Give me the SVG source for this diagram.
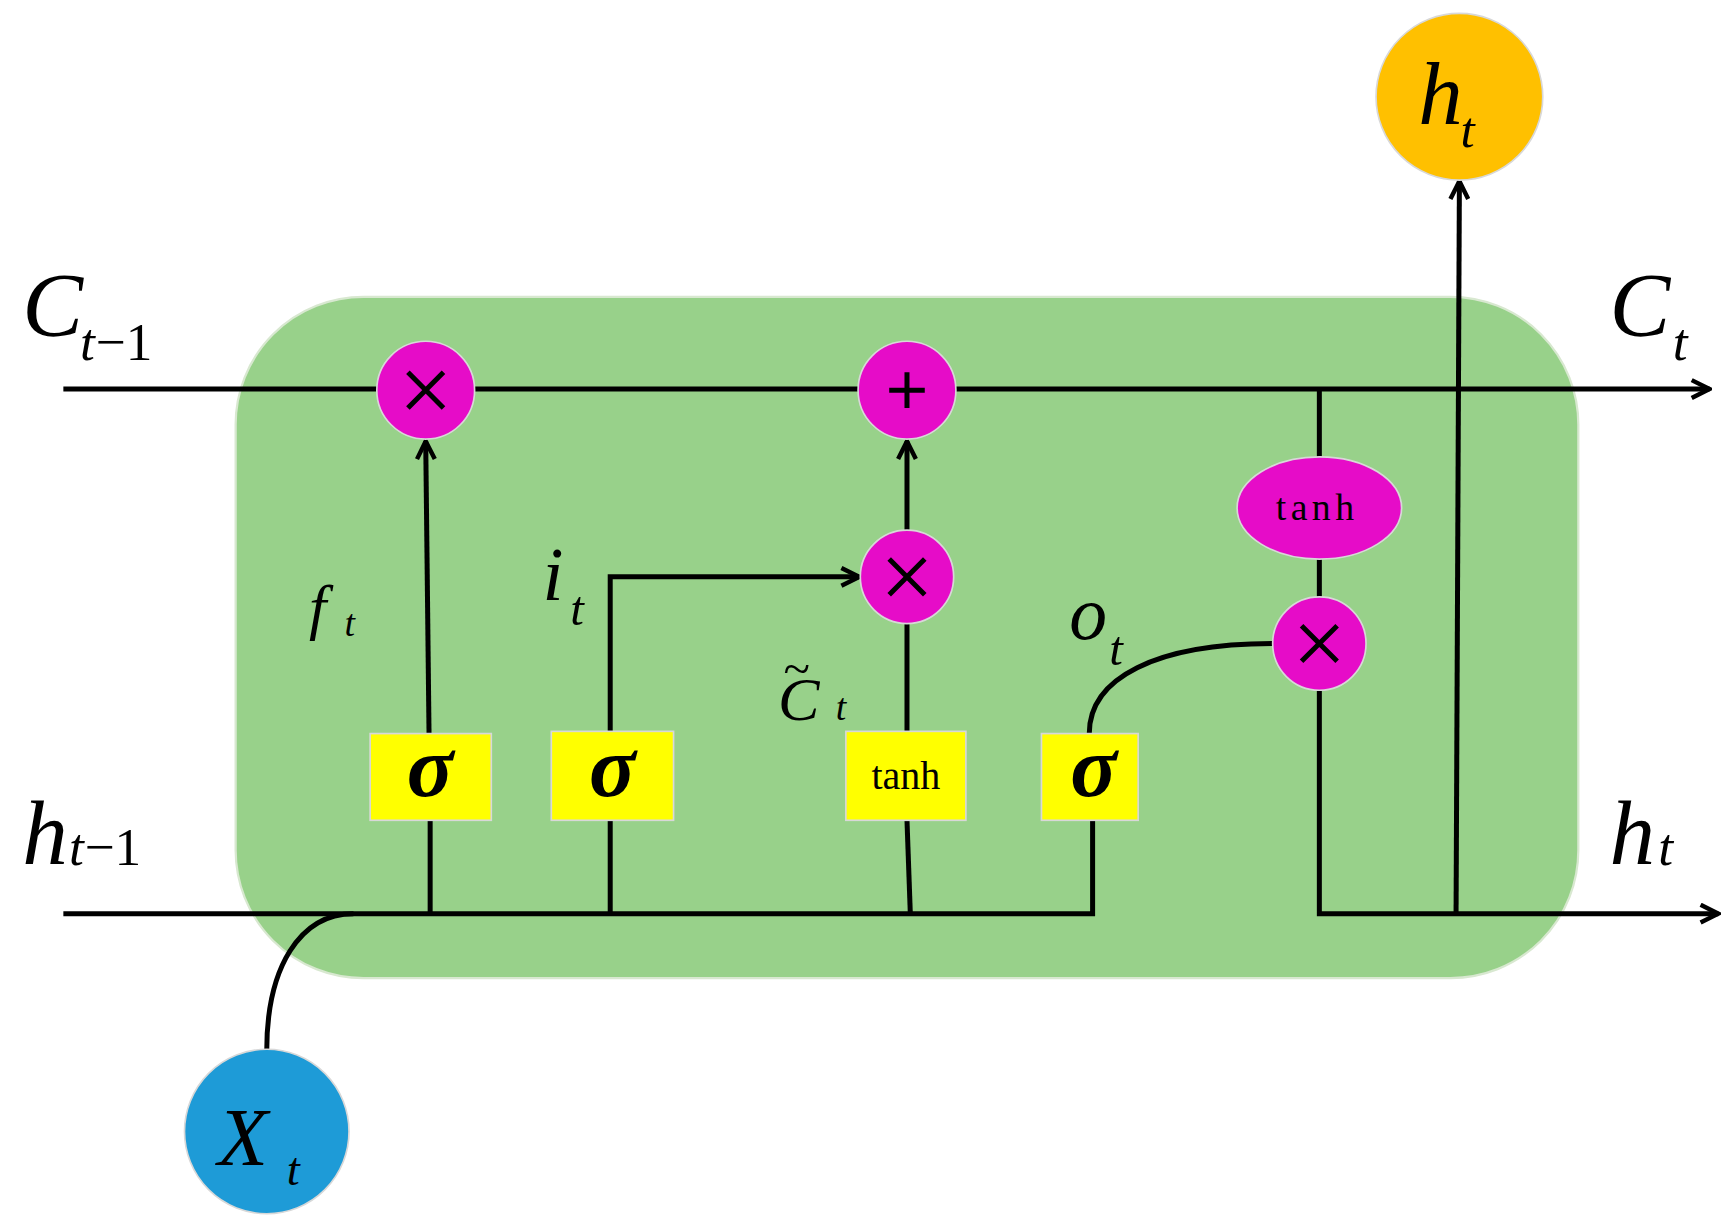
<svg xmlns="http://www.w3.org/2000/svg" width="1734" height="1224" viewBox="0 0 1734 1224">
<defs>
<marker id="ar" viewBox="0 0 20 20" refX="18" refY="10" markerWidth="20" markerHeight="20" markerUnits="userSpaceOnUse" orient="auto"><path d="M2,2 L18,10 L2,18" fill="none" stroke="#000" stroke-width="4"/></marker>
<style>
.ln{stroke:#000;stroke-width:4.5;fill:none}
.op{fill:#E60CC8;stroke:#d8d8d8;stroke-width:1.5}
.bx{fill:#FFFF00;stroke:#d8d8d8;stroke-width:1.5}
.m{font-family:"Liberation Serif",serif;font-style:italic;fill:#000}
.s{font-family:"Liberation Serif",serif;fill:#000}
</style>
</defs>
<rect width="1734" height="1224" fill="#fff"/>
<g transform="scale(1.1115)">
<rect id="cell" x="212" y="267" width="1208" height="613" rx="115" fill="#98D18A" stroke="#d8e8d0" stroke-width="2"/>
<g id="connectors">
<line class="ln" x1="57" y1="350" x2="1538" y2="350" marker-end="url(#ar)"/>
<polyline class="ln" points="57,822 983,822 983,738"/>
<polyline class="ln" points="1187,620 1187,822 1546,822" marker-end="url(#ar)"/>
<line class="ln" x1="1187" y1="350" x2="1187" y2="411"/>
<line class="ln" x1="1187" y1="503" x2="1187" y2="537"/>
<line class="ln" x1="387" y1="822" x2="387" y2="738"/>
<line class="ln" x1="386" y1="660" x2="383" y2="397" marker-end="url(#ar)"/>
<line class="ln" x1="549" y1="822" x2="549" y2="738"/>
<polyline class="ln" points="549,660 549,519 773,519" marker-end="url(#ar)"/>
<line class="ln" x1="819" y1="822" x2="816" y2="738"/>
<line class="ln" x1="816" y1="660" x2="816" y2="561"/>
<line class="ln" x1="816" y1="477" x2="816" y2="397" marker-end="url(#ar)"/>
<path class="ln" d="M980,660 C980,610 1040,579 1145,579"/>
<line class="ln" x1="1310" y1="822" x2="1313" y2="163" marker-end="url(#ar)"/>
<path class="ln" d="M240,945 C240,870 270,822 318,822"/>
</g>
<g id="mul1"><circle class="op" cx="383" cy="351" r="44"/><path class="ln" d="M367,335 L399,367 M399,335 L367,367" stroke-width="3.5"/></g>
<g id="add"><circle class="op" cx="816" cy="351" r="44"/><path class="ln" d="M816,335 V367 M800,351 H832" stroke-width="3.5"/></g>
<g id="mul2"><circle class="op" cx="816" cy="519" r="42"/><path class="ln" d="M800,503 L832,535 M832,503 L800,535" stroke-width="3.5"/></g>
<g id="mul3"><circle class="op" cx="1187" cy="579" r="42"/><path class="ln" d="M1171,563 L1203,595 M1203,563 L1171,595" stroke-width="3.5"/></g>
<g id="tanh2"><ellipse class="op" cx="1187" cy="457" rx="74" ry="46"/><text class="s" x="1185" y="468" font-size="34" text-anchor="middle" letter-spacing="4">tanh</text></g>
<g id="sig1"><rect class="bx" x="333" y="660" width="109" height="78"/><text class="m" x="387" y="716" font-size="78" font-weight="bold" text-anchor="middle">σ</text></g>
<g id="sig2"><rect class="bx" x="496" y="658" width="110" height="80"/><text class="m" x="551" y="716" font-size="78" font-weight="bold" text-anchor="middle">σ</text></g>
<g id="tanh1"><rect class="bx" x="761" y="658" width="108" height="80"/><text class="s" x="815" y="710" font-size="36" text-anchor="middle">tanh</text></g>
<g id="sig3"><rect class="bx" x="937" y="660" width="87" height="78"/><text class="m" x="984" y="716" font-size="78" font-weight="bold" text-anchor="middle">σ</text></g>
<g id="hout"><circle cx="1313" cy="87" r="75" fill="#FFC000" stroke="#d8d8d8" stroke-width="1.5"/><text class="m" x="1276" y="112" font-size="80">h</text><text class="m" x="1314" y="132" font-size="46">t</text></g>
<g id="xin"><circle cx="240" cy="1018" r="74" fill="#1E9BD7" stroke="#d8d8d8" stroke-width="1.5"/><text class="m" x="196" y="1048" font-size="74">X</text><text class="m" x="258" y="1066" font-size="42">t</text></g>
<g id="labels">
<text class="m" x="20" y="302" font-size="82">C</text><text class="m" x="72" y="324" font-size="48">t</text><text class="s" x="86" y="324" font-size="48">−1</text>
<text class="m" x="20" y="777" font-size="82">h</text><text class="m" x="62" y="778" font-size="48">t</text><text class="s" x="76" y="778" font-size="48">−1</text>
<text class="m" x="1448" y="302" font-size="82">C</text><text class="m" x="1505" y="324" font-size="48">t</text>
<text class="m" x="1448" y="777" font-size="82">h</text><text class="m" x="1492" y="778" font-size="48">t</text>
<text class="m" x="278" y="565" font-size="56">f</text><text class="m" x="310" y="572" font-size="34">t</text>
<text class="m" x="488" y="540" font-size="68">i</text><text class="m" x="513" y="562" font-size="44">t</text>
<text class="m" x="962" y="575" font-size="68">o</text><text class="m" x="998" y="598" font-size="44">t</text>
<text class="s" x="705" y="616" font-size="44">~</text><text class="m" x="700" y="648" font-size="56">C</text><text class="m" x="752" y="648" font-size="34">t</text>
</g>
</g>
</svg>
